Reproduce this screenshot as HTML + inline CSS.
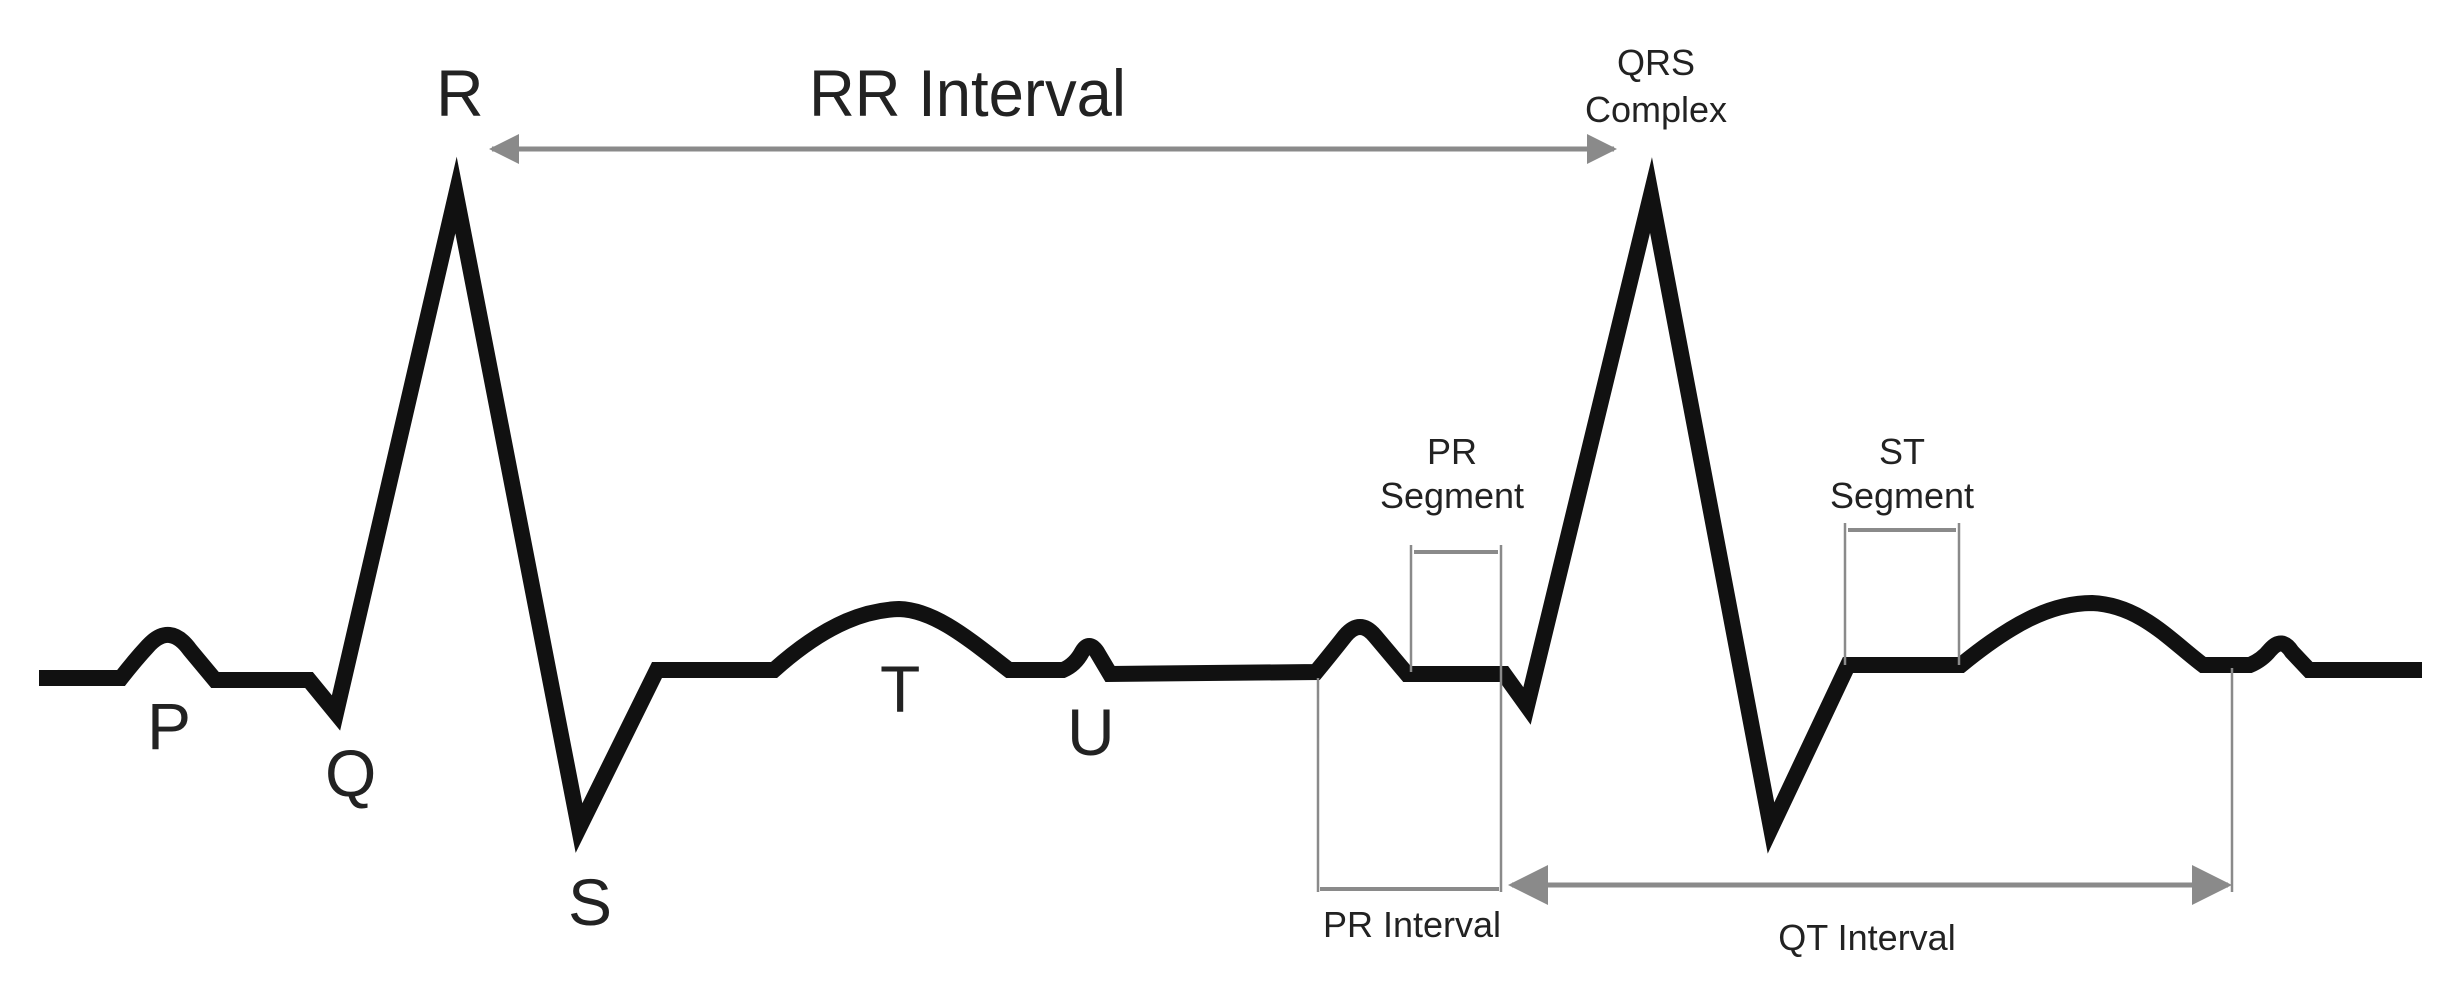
<!DOCTYPE html>
<html><head><meta charset="utf-8"><style>html,body{margin:0;padding:0;background:#fff;}svg{display:block}</style></head>
<body>
<svg width="2452" height="983" viewBox="0 0 2452 983" xmlns="http://www.w3.org/2000/svg" font-family="'Liberation Sans',sans-serif" fill="#222">
<defs>
<marker id="ah" viewBox="0 0 10 10" refX="9" refY="5" markerWidth="6" markerHeight="6" markerUnits="strokeWidth" orient="auto-start-reverse"><path d="M0,0 L10,5 L0,10 z" fill="#8a8a8a"/></marker>
<marker id="ah2" viewBox="0 0 10 10" refX="9" refY="5" markerWidth="8" markerHeight="8" markerUnits="strokeWidth" orient="auto-start-reverse"><path d="M0,0 L10,5 L0,10 z" fill="#8a8a8a"/></marker>
</defs>
<path d="M39,678 L121,678 Q135,660 148,646 Q170,622 190,650 L215,680 L309,680 L336,713 L456,195 L579,828 L657,670 L774,670 C830,620 870,610 899,609 C935,610 970,640 1009,670 L1063,670 Q1075,665 1082,652 Q1089,640 1097,652 L1110,674 L1316,672 Q1330,655 1345,636 Q1360,618 1375,636 L1407,674 L1504,674 L1527,706 L1651,195 L1771,828 L1848,665 L1961,665 C2010,625 2050,603 2092,603 C2140,605 2170,640 2203,665 L2250,665 Q2262,660 2270,650 Q2282,636 2292,652 L2309,670 L2422,670" fill="none" stroke="#111" stroke-width="16" stroke-linejoin="miter" stroke-miterlimit="10"/>
<line x1="492" y1="149" x2="1614" y2="149" stroke="#8a8a8a" stroke-width="5" marker-start="url(#ah)" marker-end="url(#ah)"/>
<g stroke="#8a8a8a" stroke-width="2.5" fill="none">
<line x1="1411" y1="545" x2="1411" y2="672"/>
<line x1="1501" y1="545" x2="1501" y2="892"/>
<line x1="1414" y1="552" x2="1498" y2="552" stroke-width="4"/>
<line x1="1318" y1="678" x2="1318" y2="892"/>
<line x1="1320" y1="889" x2="1499" y2="889" stroke-width="4"/>
<line x1="1845" y1="523" x2="1845" y2="665"/>
<line x1="1959" y1="523" x2="1959" y2="665"/>
<line x1="1848" y1="530" x2="1956" y2="530" stroke-width="4"/>
<line x1="2232" y1="668" x2="2232" y2="892"/>
</g>
<line x1="1512" y1="885" x2="2228" y2="885" stroke="#8a8a8a" stroke-width="5" marker-start="url(#ah2)" marker-end="url(#ah2)"/>
<g font-size="66">
<text x="436" y="116">R</text>
<text x="809" y="116" textLength="317" lengthAdjust="spacingAndGlyphs">RR  Interval</text>
<text x="147" y="749">P</text>
<text x="325" y="796">Q</text>
<text x="568" y="925">S</text>
<text x="880" y="712">T</text>
<text x="1067" y="755">U</text>
</g>
<g font-size="36">
<text x="1656" y="75" text-anchor="middle">QRS</text>
<text x="1656" y="122" text-anchor="middle">Complex</text>
<text x="1452" y="464" text-anchor="middle">PR</text>
<text x="1452" y="508" text-anchor="middle">Segment</text>
<text x="1902" y="464" text-anchor="middle">ST</text>
<text x="1902" y="508" text-anchor="middle">Segment</text>
<text x="1412" y="937" text-anchor="middle">PR Interval</text>
<text x="1867" y="950" text-anchor="middle">QT Interval</text>
</g>
</svg>
</body></html>
